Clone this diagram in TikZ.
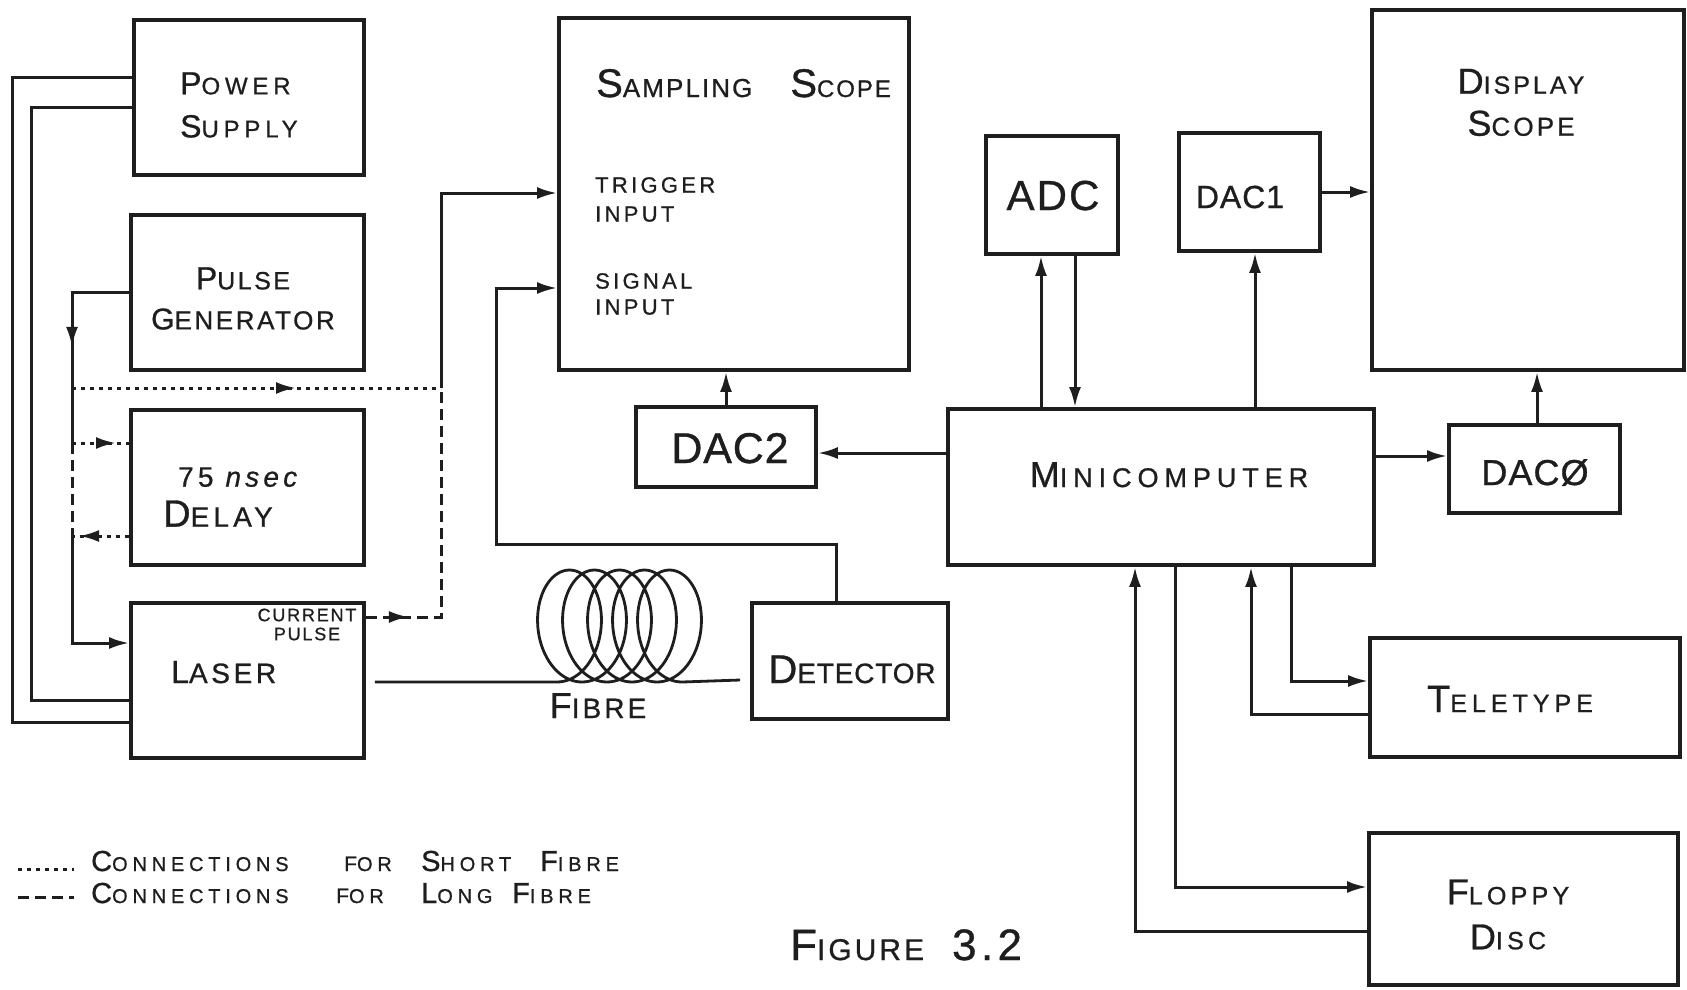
\documentclass[tikz,border=0pt]{standalone}
\usepackage{fontspec}
\newfontfamily\hand[FakeBold=0.8]{Liberation Sans}
\usetikzlibrary{arrows.meta,decorations.markings}
\definecolor{ink}{HTML}{1E1E1E}
\newcommand\SC[4]{{\fontsize{#1}{#1}\selectfont#3}{\fontsize{#2}{#2}\selectfont#4}}
\newcommand\LS[1]{\hand\addfontfeature{LetterSpace=#1}}
\begin{document}
\begin{tikzpicture}[x=1pt,y=-1pt,
  box/.style={draw=ink, line width=3.8pt, inner sep=0pt},
  wire/.style={draw=ink, line width=3pt},
  arr/.style={wire, -{Latex[length=20pt,width=12pt]}},
  dotl/.style={wire, dash pattern=on 4pt off 5pt},
  dashl/.style={wire, dash pattern=on 11pt off 6pt},
  lbl/.style={inner sep=0pt, text=ink},
  marr/.style={postaction={decorate, decoration={markings,
      mark=at position #1 with {\arrow{Latex[length=20pt,width=12pt]}}}}}]
\useasboundingbox[fill=white] (0,0) rectangle (1687,989);

% ---------- boxes ----------
\node[box, minimum width=230pt, minimum height=155pt] (ps)   at (249,97.5) {};
\node[box, minimum width=233pt, minimum height=155pt] (pg)   at (247.5,292.5) {};
\node[box, minimum width=233pt, minimum height=155pt] (dly)  at (247.5,487.5) {};
\node[box, minimum width=233pt, minimum height=155pt] (las)  at (247.5,680.5) {};
\node[box, minimum width=350pt, minimum height=352pt] (ss)   at (734,194) {};
\node[box, minimum width=180pt, minimum height=80pt]  (dac2) at (726,447) {};
\node[box, minimum width=132pt, minimum height=118pt] (adc)  at (1052,195) {};
\node[box, minimum width=141pt, minimum height=118pt] (dac1) at (1249.5,192) {};
\node[box, minimum width=312pt, minimum height=360pt] (ds)   at (1528,190) {};
\node[box, minimum width=426pt, minimum height=156pt] (mc)   at (1161,487) {};
\node[box, minimum width=171pt, minimum height=88pt]  (dac0) at (1534.5,469) {};
\node[box, minimum width=196pt, minimum height=116pt] (det)  at (850,661) {};
\node[box, minimum width=310pt, minimum height=119pt] (tty)  at (1525,697.5) {};
\node[box, minimum width=309pt, minimum height=152pt] (fd)   at (1523.5,909) {};

% ---------- labels ----------
\node[lbl, anchor=west, align=left, font=\LS{20}\fontsize{24}{43}\selectfont] (tps) at (180,105)
  {\SC{32}{24}{P}{OWER}\\\SC{32}{24}{S}{UPPLY}};
\node[lbl, align=center, font=\LS{10}\fontsize{25}{40}\selectfont] (tpg) at (243,298.5)
  {\SC{32}{25}{P}{ULSE}\\\SC{30}{26}{G}{ENERATOR}};
\node[lbl, anchor=west, align=left, font=\LS{15}\fontsize{28}{40}\selectfont] (tdly) at (163,497)
  {\hspace*{15pt}75 \textit{nsec}\\\SC{38}{28}{D}{ELAY}};
\node[lbl, anchor=base west, font=\LS{13}] (tlas) at (171,683) {\SC{32}{28}{L}{ASER}};
\node[lbl, align=center, font=\LS{10}\fontsize{18}{19}\selectfont] (tcp) at (307,624.5) {CURRENT\\PULSE};
\node[lbl, anchor=base west, font=\LS{8}] (tss) at (596,97) {\SC{40}{26}{S}{AMPLING}\hspace{38pt}\SC{40}{24}{S}{COPE}};
\node[lbl, anchor=west, align=left, font=\LS{15}\fontsize{22}{29}\selectfont] (ttrig) at (595,199.5) {TRIGGER\\INPUT};
\node[lbl, anchor=west, align=left, font=\LS{15}\fontsize{22}{26}\selectfont] (tsig) at (595,294) {SIGNAL\\INPUT};
\node[lbl, anchor=base, font=\LS{2}\fontsize{43}{43}\selectfont] (tdac2) at (730,463) {DAC2};
\node[lbl, anchor=base, font=\LS{5}\fontsize{42}{42}\selectfont] (tadc) at (1053,210) {ADC};
\node[lbl, anchor=base, font=\LS{3}\fontsize{32}{32}\selectfont] (tdac1) at (1240,208) {DAC1};
\node[lbl, align=center, font=\LS{12}\fontsize{25}{42}\selectfont] (tds) at (1521,102.5)
  {\SC{36}{25}{D}{ISPLAY}\\\SC{36}{26}{S}{COPE}};
\node[lbl, anchor=base, font=\LS{22}] (tmc) at (1169,487) {\SC{36}{27}{M}{INICOMPUTER}};
\node[lbl, anchor=base, font=\LS{3}\fontsize{36}{36}\selectfont] (tdac0) at (1535,485) {DACØ};
\node[lbl, anchor=base, font=\LS{3}] (tdet) at (852,683) {\SC{40}{28}{D}{ETECTOR}};
\node[lbl, anchor=base, font=\LS{20}] (ttty) at (1510,712) {\SC{38}{25}{T}{ELETYPE}};
\node[lbl, align=center, font=\LS{17}\fontsize{25}{45}\selectfont] (tfd) at (1508,914.5)
  {\SC{36}{25}{F}{LOPPY}\\\SC{36}{25}{D}{ISC}};
\node[lbl, anchor=base, font=\LS{11}] (tfib) at (598,718) {\SC{36}{28}{F}{IBRE}};

% legend
\node[lbl, anchor=base west, font=\LS{24}] (lg1) at (91,871)
  {\makebox[253pt][l]{\SC{29}{20}{C}{ONNECTIONS}}\makebox[77pt][l]{\SC{21}{20}{F}{OR}}\makebox[119pt][l]{\SC{29}{20}{S}{HORT}}\SC{29}{20}{F}{IBRE}};
\node[lbl, anchor=base west, font=\LS{24}] (lg2) at (91,903)
  {\makebox[245pt][l]{\SC{29}{20}{C}{ONNECTIONS}}\makebox[85pt][l]{\SC{21}{20}{F}{OR}}\makebox[91pt][l]{\SC{29}{20}{L}{ONG}}\SC{29}{20}{F}{IBRE}};
\coordinate (ld1) at (18,869);
\coordinate (ld2) at (74,869);
\coordinate (le1) at (18,897);
\coordinate (le2) at (74,897);
\draw[dotl] (ld1) -- (ld2);
\draw[dashl] (le1) -- (le2);
\node[lbl, anchor=base west, font=\LS{10}] (tfig) at (790,960)
  {\SC{44}{30}{F}{IGURE}\hspace{28pt}{\fontsize{44}{44}\selectfont 3.2}};

% ---------- junctions ----------
\coordinate (j1) at (72,388);
\coordinate (j2) at (72,443);
\coordinate (j3) at (72,536);
\coordinate (t1) at (441,388);
\coordinate (t2) at (441,617);

% power supply to laser
\draw[wire] (ps.west |- 0,77) -| (12,722) -- (las.west |- 0,722);
\draw[wire] (ps.west |- 0,107) -| (31,700) -- (las.west |- 0,700);

% pulse generator to laser
\draw[wire, marr=112pt] (pg.west |- 0,292) -| (j2);
\draw[dashl] (j2) -- (j3);
\draw[arr] (j3) |- (las.west |- 0,643);

% short fibre (dotted) connections
\draw[dotl, marr=224pt] (j1) -- (t1);
\draw[dotl, marr=44pt] (j2) -- (dly.west |- j2);
\draw[dotl, marr=50pt] (dly.west |- j3) -- (j3);

% long fibre (dashed) connection
\draw[dashl, marr=43pt] (las.east |- t2) -- (t2) -- (t1);

% trigger and signal inputs
\draw[arr] (t1) |- (ss.west |- 0,193);
\draw[arr] (det.north -| 836,0) |- (496,544) |- (ss.west |- 0,288);

% DAC2 and ADC / DAC1 / DAC0
\draw[arr] (dac2.north) -- (dac2.north |- ss.south);
\draw[arr] (mc.west |- 0,453) -- (dac2.east |- 0,453);
\draw[arr] (mc.north -| 1041,0) -- (adc.south -| 1041,0);
\draw[arr] (adc.south -| 1075,0) -- (mc.north -| 1075,0);
\draw[arr] (mc.north -| 1255,0) -- (dac1.south -| 1255,0);
\draw[arr] (dac1.east |- 0,192) -- (ds.west |- 0,192);
\draw[arr] (mc.east |- 0,456) -- (dac0.west |- 0,456);
\draw[arr] (dac0.north -| 1537,0) -- (ds.south -| 1537,0);

% teletype and floppy
\draw[arr] (mc.south -| 1291,0) |- (tty.west |- 0,681);
\draw[arr] (tty.west |- 0,714) -| (mc.south -| 1251,0);
\draw[arr] (mc.south -| 1175,0) |- (fd.west |- 0,887);
\draw[arr] (fd.west |- 0,931) -| (mc.south -| 1135,0);

% fibre coil
\draw[wire, line width=2.8pt, line join=round]
  ([xshift=9pt]las.east |- 0,682) -- plot[domain=0:1800, samples=361]
  ({557+\x/14.4+38*sin(\x)}, {626+56*cos(\x)})
  -- ([xshift=-10pt]det.west |- 0,680);
\end{tikzpicture}
\end{document}
